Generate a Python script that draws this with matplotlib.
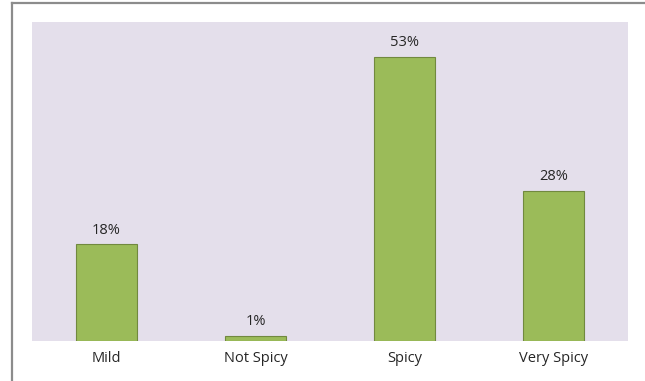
import matplotlib
matplotlib.use("Agg")
import matplotlib.pyplot as plt

categories = ["Mild", "Not Spicy", "Spicy", "Very Spicy"]
shares = [18, 1, 53, 28]
labels = ["18%", "1%", "53%", "28%"]

W, H = 645, 381
fig = plt.figure(figsize=(W / 100, H / 100), dpi=100)
fig.patch.set_facecolor("white")

# chart frame (left and top edges visible)
fig.add_artist(plt.Line2D([12 / W, 12 / W], [0, 1 - 3 / H], color="#8c8c8c", lw=1.6,
                          transform=fig.transFigure))
fig.add_artist(plt.Line2D([12 / W, 1], [1 - 3 / H, 1 - 3 / H], color="#8c8c8c", lw=1.6,
                          transform=fig.transFigure))

left, right, top, bottom = 32, 628, 22, 341
ax = fig.add_axes([left / W, 1 - bottom / H, (right - left) / W, (bottom - top) / H])
ax.set_facecolor("#e4dfeb")

x = range(len(categories))
ax.bar(x, shares, width=0.41, color="#9bbb59", edgecolor="#71893f", linewidth=0.8, zorder=2)
ax.set_xlim(-0.5, len(categories) - 0.5)
ax.set_ylim(0, 59.5)

txt = dict(fontsize=10.5, color="#262626", family="Open Sans")
for xi, v, lab in zip(x, shares, labels):
    ax.annotate(lab, (xi, v), xytext=(0, 5), textcoords="offset points",
                ha="center", va="bottom", **txt)

ax.set_xticks(list(x))
ax.set_xticklabels(categories, **txt)
ax.tick_params(axis="x", length=0, pad=7)
ax.set_yticks([])
for s in ax.spines.values():
    s.set_visible(False)

fig.savefig("out.png", dpi=100, facecolor="white")
